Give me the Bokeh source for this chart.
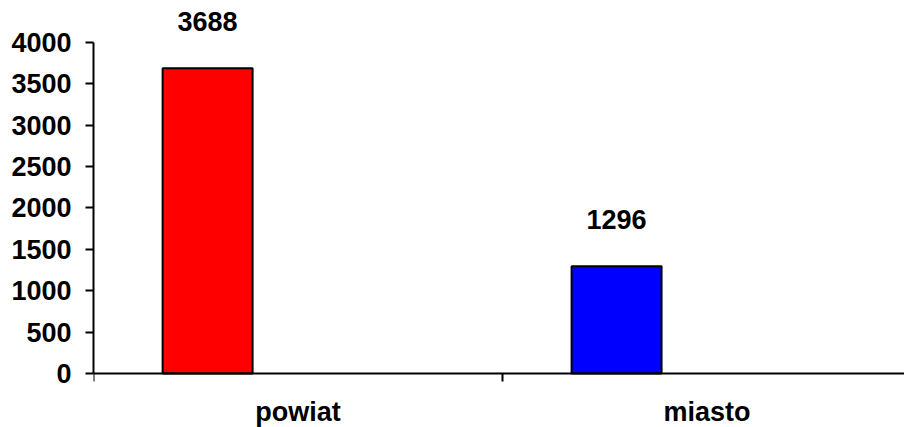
from bokeh.plotting import figure
from bokeh.models import Range1d, FixedTicker, ColumnDataSource, LinearAxis
from bokeh.embed import file_html
from bokeh.resources import INLINE
from bokeh.core.properties import value

categories = ["powiat", "miasto"]
values = [3688, 1296]
colors = ["#FF0000", "#0000FF"]
y_ticks = [0, 500, 1000, 1500, 2000, 2500, 3000, 3500, 4000]

cat_pos = [i + 0.279 for i in range(len(categories))]
cat_centers = [i + 0.5 for i in range(len(categories))]
bounds = list(range(len(categories) + 1))

src = ColumnDataSource(dict(x=cat_pos, top=values, color=colors,
                            label=[str(v) for v in values]))

FONT = "Liberation Sans"
FS = "27px"

p = figure(width=904, height=427, output_backend="svg", toolbar_location=None,
           x_range=Range1d(0, 1.983), y_range=Range1d(-652.6, 4507.5),
           x_axis_type=None, y_axis_type=None,
           min_border_left=93, min_border_right=0, min_border_top=0, min_border_bottom=0)
p.outline_line_color = None
p.xgrid.visible = False
p.ygrid.visible = False
p.background_fill_color = "white"

p.vbar(x="x", top="top", width=0.22, bottom=0, source=src, fill_color="color",
       line_color="black", line_width=2)

p.text(x="x", y="top", text="label", source=src, y_offset=-47,
       text_align="center", text_baseline="alphabetic",
       text_font=value(FONT), text_font_style="bold", text_font_size=FS,
       text_color="black")

yaxis = LinearAxis(bounds=(0, 4000), ticker=FixedTicker(ticks=y_ticks))
yaxis.axis_line_width = 2
yaxis.axis_line_color = "black"
yaxis.major_tick_line_width = 2
yaxis.major_tick_out = 8
yaxis.major_tick_in = 0
yaxis.minor_tick_line_color = None
yaxis.major_label_standoff = 14
yaxis.major_label_text_font = FONT
yaxis.major_label_text_font_style = "bold"
yaxis.major_label_text_font_size = FS
yaxis.major_label_text_color = "black"
p.add_layout(yaxis, "left")

xaxis = LinearAxis(ticker=FixedTicker(ticks=cat_centers, minor_ticks=bounds),
                   fixed_location=0)
xaxis.axis_line_width = 2
xaxis.axis_line_color = "black"
xaxis.major_tick_line_color = None
xaxis.minor_tick_line_width = 2
xaxis.minor_tick_out = 8
xaxis.minor_tick_in = 0
xaxis.major_tick_out = 0
xaxis.major_tick_in = 0
xaxis.major_label_standoff = 16
xaxis.major_label_overrides = {c: n for c, n in zip(cat_centers, categories)}
xaxis.major_label_text_font = FONT
xaxis.major_label_text_font_style = "bold"
xaxis.major_label_text_font_size = FS
xaxis.major_label_text_color = "black"
p.add_layout(xaxis, "below")

open("out.html", "w").write(file_html(p, INLINE))
